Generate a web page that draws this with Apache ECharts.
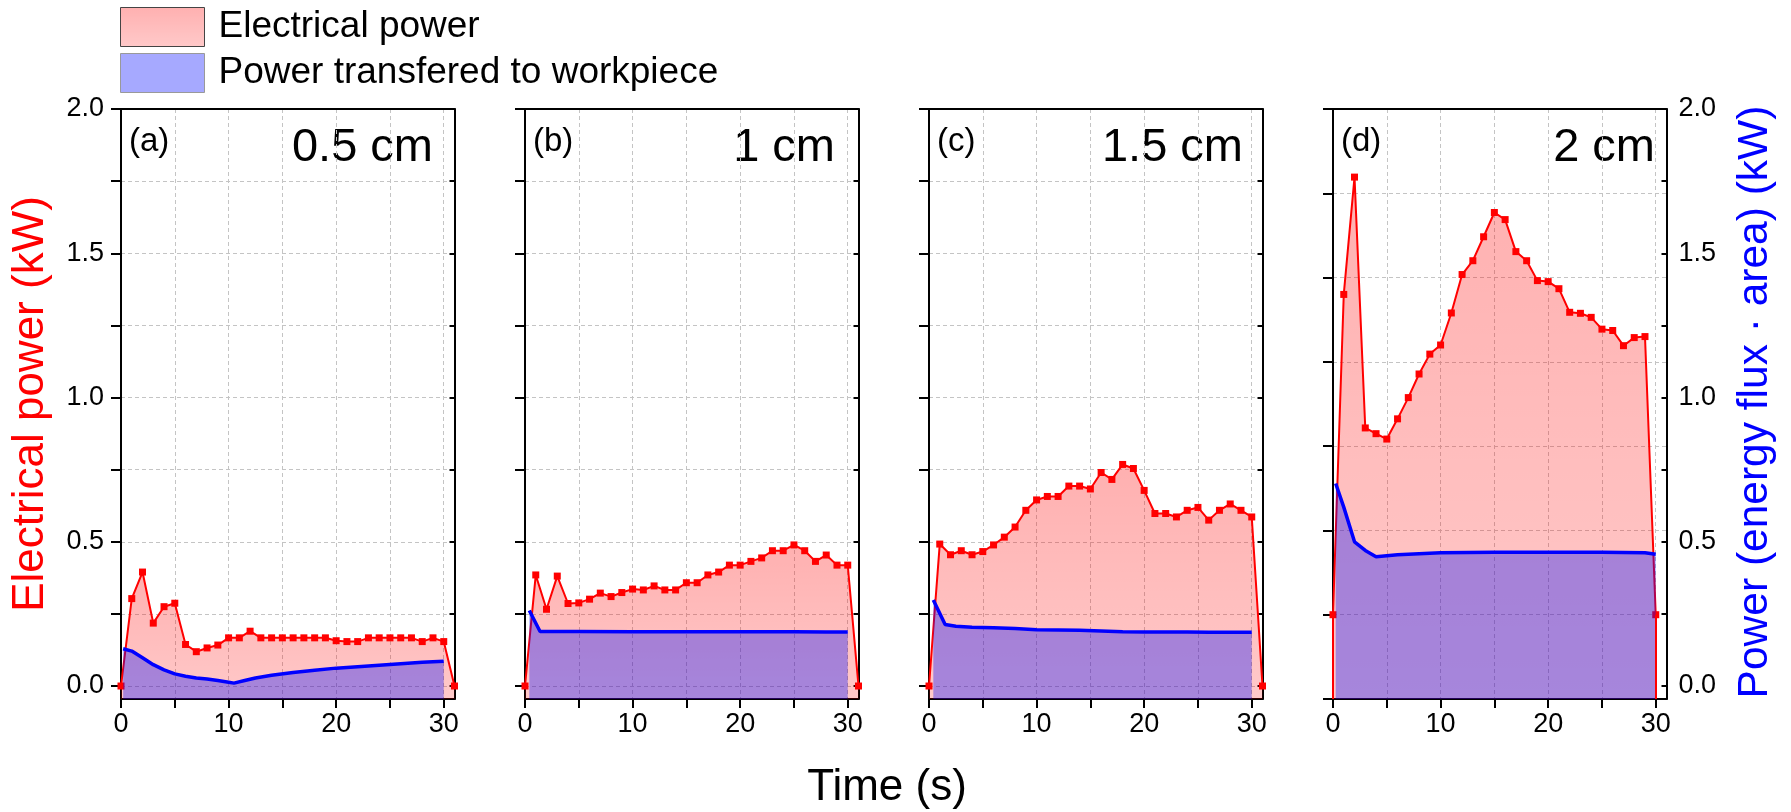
<!DOCTYPE html>
<html>
<head>
<meta charset="utf-8">
<script src="https://cdn.jsdelivr.net/npm/echarts@6/dist/echarts.min.js"></script>
<style>
  html, body { margin: 0; padding: 0; background: #ffffff; }
  #chart { width: 1791px; height: 812px; }
</style>
</head>
<body>
<div id="chart"></div>
<script>
// ---- data -------------------------------------------------------------
// Sampling times (s) of the electrical-power measurements
const TIME_ABC = [0, 1, 2, 3, 4, 5, 6, 7, 8, 9, 10, 11, 12, 13, 14, 15, 16, 17, 18, 19, 20, 21, 22, 23, 24, 25, 26, 27, 28, 29, 30, 31];
const TIME_D   = [0, 1, 2, 3, 4, 5, 6, 7, 8, 9, 10, 11, 12, 13, 14, 15, 16, 17, 18, 19, 20, 21, 22, 23, 24, 25, 26, 27, 28, 29, 30];

// Electrical power (kW) for each electrode gap
const ELEC_05 = [0, 0.303, 0.395, 0.218, 0.275, 0.287, 0.144, 0.119, 0.132, 0.142, 0.167, 0.167, 0.190, 0.167, 0.167, 0.167,
                 0.167, 0.167, 0.167, 0.167, 0.157, 0.154, 0.154, 0.167, 0.167, 0.167, 0.167, 0.167, 0.154, 0.167, 0.154, 0];
const ELEC_10 = [0, 0.385, 0.266, 0.381, 0.286, 0.288, 0.301, 0.322, 0.310, 0.324, 0.336, 0.333, 0.347, 0.333, 0.333, 0.358,
                 0.358, 0.385, 0.395, 0.419, 0.419, 0.432, 0.444, 0.469, 0.469, 0.489, 0.469, 0.432, 0.454, 0.419, 0.419, 0];
const ELEC_15 = [0, 0.492, 0.455, 0.469, 0.455, 0.466, 0.489, 0.516, 0.551, 0.609, 0.645, 0.657, 0.657, 0.693, 0.693, 0.683,
                 0.740, 0.716, 0.768, 0.754, 0.678, 0.598, 0.598, 0.586, 0.609, 0.619, 0.575, 0.609, 0.631, 0.609, 0.586, 0];
const ELEC_20 = [0, 0.950, 1.298, 0.554, 0.537, 0.521, 0.581, 0.644, 0.714, 0.773, 0.800, 0.895, 1.009, 1.050, 1.121, 1.193,
                 1.172, 1.077, 1.050, 0.991, 0.988, 0.967, 0.897, 0.894, 0.882, 0.847, 0.843, 0.798, 0.822, 0.825, 0];

// Power transferred to the workpiece (kW), [time, value] pairs
const WORK_05 = [[0.2, 0.129], [1, 0.121], [2, 0.098], [3, 0.074], [4, 0.056], [5, 0.042], [6, 0.034], [7, 0.028],
                 [8, 0.024], [9, 0.019], [10, 0.013], [10.5, 0.010], [11.5, 0.019], [12.5, 0.028], [14, 0.037],
                 [16, 0.047], [18, 0.055], [20, 0.062], [22, 0.067], [24, 0.072], [26, 0.077], [28, 0.082], [30, 0.086]];
const WORK_10 = [[0.4, 0.262], [1.4, 0.189], [5, 0.189], [10, 0.188], [15, 0.188], [20, 0.188], [25, 0.188], [28, 0.187], [30, 0.187]];
const WORK_15 = [[0.4, 0.298], [1.5, 0.213], [2.5, 0.207], [4, 0.204], [6, 0.202], [8, 0.199], [10, 0.195], [12, 0.194],
                 [14, 0.193], [16, 0.191], [18, 0.188], [20, 0.187], [22, 0.187], [24, 0.187], [26, 0.186], [28, 0.186], [30, 0.186]];
const WORK_20 = [[0.25, 0.702], [1, 0.620], [2, 0.500], [3, 0.470], [4, 0.448], [6, 0.455], [10, 0.462], [15, 0.464],
                 [20, 0.464], [25, 0.464], [29, 0.462], [30, 0.457]];

// Panel captions
const PANEL_TAGS = ['(a)', '(b)', '(c)', '(d)'];
const GAP_LABELS = ['0.5 cm', '1 cm', '1.5 cm', '2 cm'];
const SERIES_NAMES = ['Electrical power', 'Power transfered to workpiece'];

// Ticks and labels
const X_TICKS  = [0, 5, 10, 15, 20, 25, 30];
const X_LABELS = [0, 10, 20, 30];
const Y_TICKS  = [0, 0.25, 0.5, 0.75, 1, 1.25, 1.5, 1.75, 2];
const Y_LABELS = [0, 0.5, 1, 1.5, 2];

// ---- layout -----------------------------------------------------------
const FONT = '"Liberation Sans", Arial, Helvetica, sans-serif';
const GRID_LEFT = [121, 525, 929, 1333];
const GRID_W = 333.5, GRID_TOP = 109, GRID_H = 590;
const Y_MIN = -0.045, Y_MAX = 2;
const D_MIN = -0.25, D_MAX = 1.5;   // electrical power scale of the 2 cm panel
const X_MIN = 0, X_MAX = 31;
const RED = '#ff0000', BLUE = '#0000ff';
const FRAME = { color: '#000', width: 2 };
const GRIDLINE = { color: '#c4c4c4', width: 1, type: [4, 3] };
const TICK_FONT = 27;

const redFill = () => ({
  type: 'linear', x: 0, y: 0, x2: 0, y2: 1,
  colorStops: [{ offset: 0, color: 'rgba(255,0,0,0.31)' }, { offset: 1, color: 'rgba(255,0,0,0.21)' }]
});
const blueFill = 'rgba(0,10,255,0.35)';

const elecData = [ELEC_05, ELEC_10, ELEC_15, ELEC_20];
const elecTime = [TIME_ABC, TIME_ABC, TIME_ABC, TIME_D];
const workData = [WORK_05, WORK_10, WORK_15, WORK_20];

const grids = [], xAxes = [], yAxes = [], series = [];

GRID_LEFT.forEach((left, i) => {
  grids.push({ left: left, top: GRID_TOP, width: GRID_W, height: GRID_H });

  // bottom time axis
  xAxes.push({
    gridIndex: i, type: 'value', min: X_MIN, max: X_MAX, position: 'bottom',
    axisLine: { show: true, onZero: false, lineStyle: FRAME },
    axisTick: { show: true, inside: false, length: 9, customValues: X_TICKS, lineStyle: FRAME },
    axisLabel: { show: true, customValues: X_LABELS, fontSize: TICK_FONT, fontFamily: FONT, color: '#000', margin: 12 },
    splitLine: { show: true, lineStyle: GRIDLINE }
  });
  // top frame edge
  xAxes.push({
    gridIndex: i, type: 'value', min: X_MIN, max: X_MAX, position: 'top',
    axisLine: { show: true, onZero: false, lineStyle: FRAME },
    axisTick: { show: false }, axisLabel: { show: false }, splitLine: { show: false }
  });

  if (i < 3) {
    yAxes.push({
      gridIndex: i, type: 'value', min: Y_MIN, max: Y_MAX, position: 'left',
      axisLine: { show: true, onZero: false, lineStyle: FRAME },
      axisTick: { show: true, inside: false, length: 10, customValues: Y_TICKS, lineStyle: FRAME },
      axisLabel: {
        show: i === 0, customValues: Y_LABELS, formatter: v => v.toFixed(1),
        fontSize: TICK_FONT, fontFamily: FONT, color: '#000', margin: 17
      },
      splitLine: { show: true, lineStyle: GRIDLINE }
    });
    yAxes.push({
      gridIndex: i, type: 'value', min: Y_MIN, max: Y_MAX, position: 'right',
      axisLine: { show: true, onZero: false, lineStyle: FRAME },
      axisTick: { show: true, inside: true, length: 5, customValues: Y_TICKS, lineStyle: FRAME },
      axisLabel: { show: false }, splitLine: { show: false }
    });
  } else {
    // electrical power scale of the 2 cm panel (unlabelled)
    yAxes.push({
      gridIndex: i, type: 'value', min: D_MIN, max: D_MAX, interval: 0.25, position: 'left',
      axisLine: { show: true, onZero: false, lineStyle: FRAME },
      axisTick: { show: true, inside: false, length: 10, lineStyle: FRAME },
      axisLabel: { show: false },
      splitLine: { show: true, lineStyle: GRIDLINE }
    });
    // workpiece power scale
    yAxes.push({
      gridIndex: i, type: 'value', min: Y_MIN, max: Y_MAX, position: 'right',
      axisLine: { show: true, onZero: false, lineStyle: FRAME },
      axisTick: { show: true, inside: true, length: 5, customValues: Y_TICKS, lineStyle: FRAME },
      axisLabel: {
        show: true, customValues: Y_LABELS, formatter: v => v.toFixed(1),
        fontSize: TICK_FONT, fontFamily: FONT, color: '#000', margin: 12
      },
      splitLine: { show: false }
    });
  }

  const times = elecTime[i], vals = elecData[i];
  const elec = {
    type: 'line', name: SERIES_NAMES[0], xAxisIndex: 2 * i, yAxisIndex: 2 * i,
    data: times.map((t, k) => [t, vals[k]]),
    symbol: 'rect', symbolSize: 7, showSymbol: true,
    lineStyle: { color: RED, width: 2 }, itemStyle: { color: RED },
    areaStyle: { origin: 'start', color: redFill(), opacity: 1 },
    z: 2, animation: false
  };
  if (i === 3) {
    // drop lines from the first and last samples down to the bottom of the scale
    const first = 0, last = times.length - 1;
    elec.markLine = {
      silent: true, symbol: 'none', animation: false,
      label: { show: false },
      lineStyle: { color: RED, width: 2, type: 'solid' },
      data: [
        [{ coord: [times[first], vals[first]] }, { coord: [times[first], D_MIN] }],
        [{ coord: [times[last], vals[last]] }, { coord: [times[last], D_MIN] }]
      ]
    };
  }
  series.push(elec);
  series.push({
    type: 'line', name: SERIES_NAMES[1], xAxisIndex: 2 * i, yAxisIndex: i < 3 ? 2 * i : 2 * i + 1,
    data: workData[i],
    symbol: 'none', showSymbol: false,
    lineStyle: { color: BLUE, width: 3.5 }, itemStyle: { color: BLUE },
    areaStyle: { origin: 'start', color: blueFill, opacity: 1 },
    z: 3, animation: false
  });
});

// panel captions and axis titles
const graphics = [];
GRID_LEFT.forEach((left, i) => {
  graphics.push({
    type: 'text', x: left + 8, y: 142, silent: true,
    style: { text: PANEL_TAGS[i], fontSize: 33, fontFamily: FONT, fill: '#000', align: 'left', verticalAlign: 'middle' }
  });
});
const GAP_RIGHT = [433, 835, 1243, 1655];
GAP_LABELS.forEach((s, i) => {
  graphics.push({
    type: 'text', x: GAP_RIGHT[i], y: 148, silent: true,
    style: { text: s, fontSize: 47, fontFamily: FONT, fill: '#000', align: 'right', verticalAlign: 'middle' }
  });
});
graphics.push({
  type: 'text', x: 31, y: 404, rotation: Math.PI / 2, silent: true,
  style: { text: 'Electrical power (kW)', fontSize: 44, fontFamily: FONT, fill: RED, align: 'center', verticalAlign: 'middle' }
});
graphics.push({
  type: 'text', x: 1755, y: 402, rotation: Math.PI / 2, silent: true,
  style: { text: 'Power (energy flux \u00b7 area) (kW)', fontSize: 42.5, fontFamily: FONT, fill: BLUE, align: 'center', verticalAlign: 'middle' }
});
graphics.push({
  type: 'text', x: 887, y: 788, silent: true,
  style: { text: 'Time (s)', fontSize: 44, fontFamily: FONT, fill: '#000', align: 'center', verticalAlign: 'middle' }
});

const chart = echarts.init(document.getElementById('chart'), null, { renderer: 'canvas' });
chart.setOption({
  backgroundColor: '#ffffff',
  animation: false,
  grid: grids,
  xAxis: xAxes,
  yAxis: yAxes,
  series: series,
  legend: {
    orient: 'vertical', left: 120, top: 7, padding: 0,
    itemWidth: 84, itemHeight: 39, itemGap: 6, icon: 'rect', selectedMode: false,
    textStyle: { fontSize: 37, fontFamily: FONT, color: '#000', padding: [0, 0, 0, 9] },
    data: [
      { name: SERIES_NAMES[0], itemStyle: { color: redFill(), borderColor: '#444', borderWidth: 1 } },
      { name: SERIES_NAMES[1], itemStyle: { color: blueFill, borderColor: '#999', borderWidth: 1 } }
    ]
  },
  graphic: graphics
});
</script>
</body>
</html>
